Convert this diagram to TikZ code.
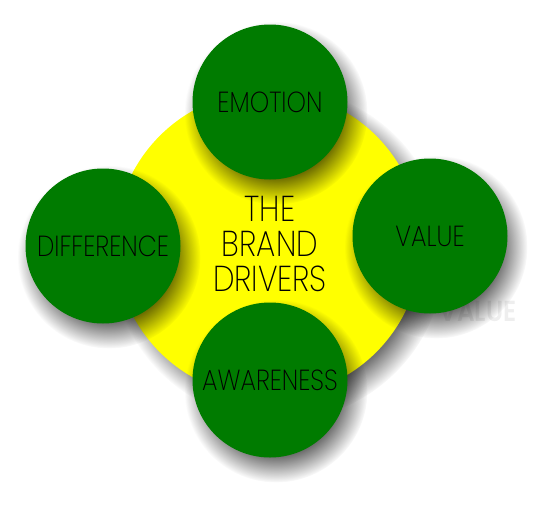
\documentclass[tikz,border=0pt]{standalone}
\usepackage{fontspec}
\newfontfamily\thinfont{Poppins ExtraLight}[FakeStretch=0.85]
\usepackage{xcolor}
\definecolor{cLeaf}{HTML}{007B00}
\definecolor{cSun}{HTML}{FFFF00}
\definecolor{cGhost}{HTML}{EEEEEE}
\usetikzlibrary{positioning, fadings}
% soft round shadows (opaque core, fuzzy rim)
\pgfdeclareradialshading{hubshading}{\pgfpointorigin}{color(0bp)=(pgftransparent!0);
  color(20.8bp)=(pgftransparent!0); color(25bp)=(pgftransparent!100); color(50bp)=(pgftransparent!100)}
\pgfdeclareradialshading{drvshading}{\pgfpointorigin}{color(0bp)=(pgftransparent!0);
  color(17.3bp)=(pgftransparent!0); color(25bp)=(pgftransparent!100); color(50bp)=(pgftransparent!100)}
\pgfdeclarefading{hubfade}{\pgfuseshading{hubshading}}
\pgfdeclarefading{drvfade}{\pgfuseshading{drvshading}}

\begin{document}
\begin{tikzpicture}[x=1pt, y=-1pt,
    hub/.style={circle, fill=cSun, minimum size=306pt, inner sep=0pt},
    driver/.style={circle, fill=cLeaf, minimum size=155pt, inner sep=0pt,
                   font=\thinfont\fontsize{29}{30}\selectfont},
    hubshade/.style={fill=black, opacity=0.55, path fading=hubfade},
    drvshade/.style={fill=black, opacity=0.6, path fading=drvfade},
    ghost/.style={text=cGhost, font=\thinfont\fontsize{29}{30}\selectfont\bfseries}
]
\useasboundingbox (0,0) rectangle (557,509);
\coordinate (hubc) at (268,244);
\coordinate (emoc) at (270,102);
\coordinate (valc) at (430,236);
\coordinate (difc) at (103,246);
\coordinate (awac) at (270,380);

\fill[hubshade] ([shift={(10,10)}]hubc) circle (167);
\node[hub] (brand) at (hubc) {};
\node[align=center, font=\thinfont\fontsize{36}{35}\selectfont] (brandtxt) at (270,244) {THE\\BRAND\\DRIVERS};
\node[ghost] (echo) at (478,311) {VALUE};

\fill[drvshade] ([shift={(6,11)}]emoc) circle (91.5);
\fill[drvshade] ([shift={(6,11)}]valc) circle (91.5);
\fill[drvshade] ([shift={(6,11)}]difc) circle (91.5);
\fill[drvshade] ([shift={(6,11)}]awac) circle (91.5);

\node[driver] (emotion) at (emoc) {EMOTION};
\node[driver] (value) at (valc) {VALUE};
\node[driver] (difference) at (difc) {DIFFERENCE};
\node[driver] (awareness) at (awac) {AWARENESS};
\end{tikzpicture}
\end{document}
